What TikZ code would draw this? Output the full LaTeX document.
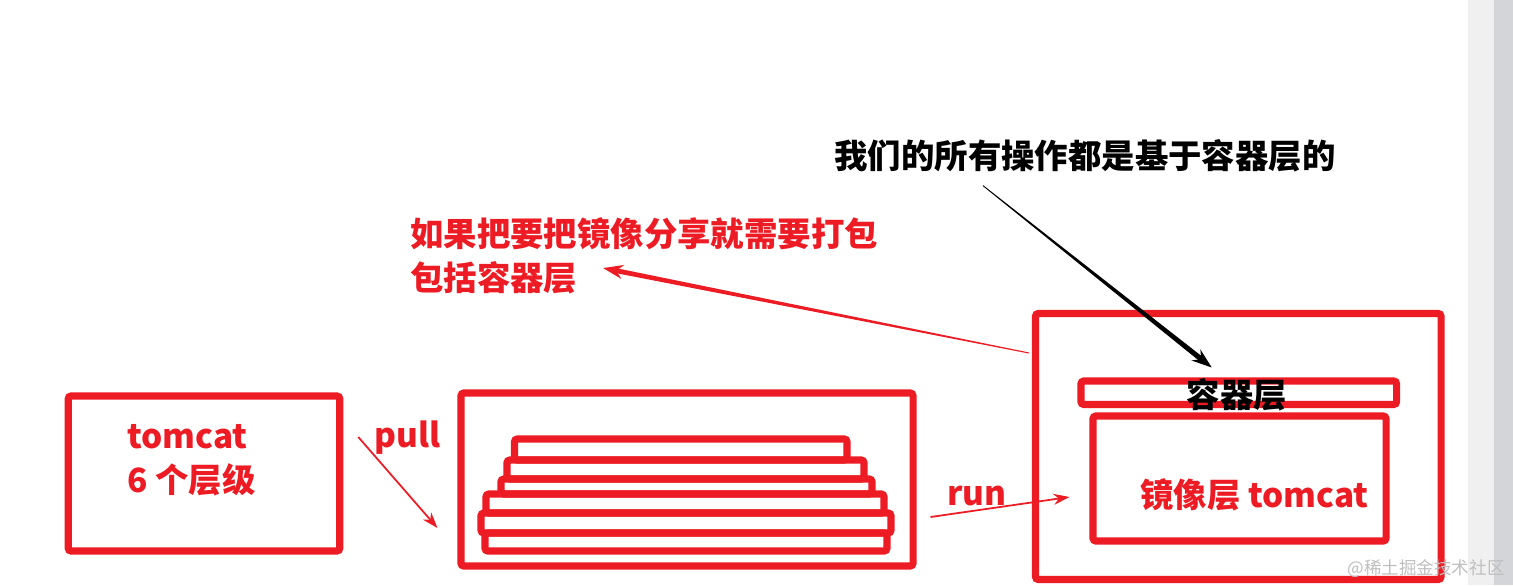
\documentclass[tikz,border=0pt]{standalone}
\usepackage{fontspec}
\setmainfont{Noto Sans CJK SC}
\usepackage{xcolor}
\usepackage{tikz}
\usetikzlibrary{arrows.meta,positioning,calc}
\definecolor{paintred}{RGB}{237,28,36}
\definecolor{barlight}{RGB}{240,240,241}
\definecolor{bardark}{RGB}{212,213,217}

\begin{document}
\begin{tikzpicture}[
  x=0.2mm, y=-0.2mm,
  box/.style={draw=paintred, line width=4pt, rounded corners=1.5pt, inner sep=0pt},
  layer/.style={draw=paintred, line width=4pt, rounded corners=1.5pt},
  redtxt/.style={text=paintred, inner sep=0pt, align=left,
                 font=\fontsize{19pt}{25pt}\selectfont\bfseries},
  blktxt/.style={text=black, inner sep=0pt,
                 font=\fontsize{19pt}{25pt}\selectfont\bfseries},
  thinarr/.style={draw=paintred, line width=1pt, -{Stealth[length=3.2mm, width=2.2mm]}},
  tiparr/.style={line width=1.6pt, -{Stealth[length=4mm, width=2.8mm]}},
  wm/.style={text=black!25, inner sep=0pt, font=\fontsize{10pt}{12pt}\selectfont}]

  % page and scroll bar
  \fill[white] (0,0) rectangle (1513,585);
  \useasboundingbox (0,0) rectangle (1513,585);
  \fill[barlight] (1468,0) rectangle (1494,585);
  \fill[bardark] (1494,0) rectangle (1513,585);

  % boxes
  \node[box, minimum width=54.3mm, minimum height=31mm] (tomcatbox) at (204,473.5) {};
  \node[box, minimum width=90.4mm, minimum height=34.6mm] (imagebox) at (687,479.5) {};
  \node[box, minimum width=81.1mm, minimum height=53.2mm] (containerbox) at (1238.25,446.5) {};
  \node[box, minimum width=63.1mm, minimum height=4.7mm] (containerbar) at (1238.75,392.75) {};
  \node[box, minimum width=58.6mm, minimum height=25mm] (imagelayer) at (1239.5,478.5) {};

  % six image layers
  \draw[layer] (514.5,439) rectangle (847,460);
  \draw[layer] (507,460) rectangle (864,479);
  \draw[layer] (501,479) rectangle (872,494);
  \draw[layer] (486,494) rectangle (884,513);
  \draw[layer] (481,513) rectangle (891,533);
  \draw[layer] (485,533) rectangle (887,551);

  % texts
  \node[redtxt, anchor=west] (tomcattxt) at (127,460) {tomcat\\6 个层级};
  \node[redtxt, anchor=base west] (pulltxt) at (374,447) {pull};
  \node[redtxt, anchor=base west] (runtxt) at (947,505) {run};
  \node[redtxt, anchor=west] (imagetxt) at (1140,495) {镜像层 tomcat};
  \node[redtxt, anchor=west] (sharenote) at (410,255.5) {如果把要把镜像分享就需要打包\\包括容器层};
  \node[blktxt] (opnote) at (1085,156) {我们的所有操作都是基于容器层的};
  \node[wm, anchor=east] (mark) at (1505,569) {@稀土掘金技术社区};

  % connectors
  \draw[thinarr] ($(tomcatbox.east)+(15,-36.5)$) -- ($(imagebox.west)+(-20,48.5)$);
  \draw[thinarr] ($(imagebox.east)+(14,37.5)$) -- ($(imagelayer.west)+(-20,18.5)$);

  % tapered note arrows
  \coordinate (sharefrom) at ($(containerbox.west)+(-3,-93.5)$);
  \coordinate (shareto) at ($(sharenote.south west)+(193,-26)$);
  \coordinate (shareend) at ($(shareto)!6pt!(sharefrom)$);
  \fill[paintred] ($(sharefrom)!0.3pt!90:(shareto)$) -- ($(shareend)!1.4pt!-90:(sharefrom)$)
    -- ($(shareend)!1.4pt!90:(sharefrom)$) -- ($(sharefrom)!0.3pt!-90:(shareto)$) -- cycle;
  \draw[tiparr, draw=paintred, fill=paintred, line width=1.4pt] ($(shareto)!14pt!(sharefrom)$) -- (shareto);

  \coordinate (opfrom) at ($(opnote.south)+(-102,13)$);
  \coordinate (opto) at ($(containerbar.north)+(-27,-10)$);
  \coordinate (opend) at ($(opto)!6pt!(opfrom)$);
  \fill[black] ($(opfrom)!0.25pt!90:(opto)$) -- ($(opend)!1.5pt!-90:(opfrom)$)
    -- ($(opend)!1.5pt!90:(opfrom)$) -- ($(opfrom)!0.25pt!-90:(opto)$) -- cycle;
  \draw[tiparr] ($(opto)!14pt!(opfrom)$) -- (opto);

  \node[blktxt] (containertxt) at (1237,395) {容器层};
\end{tikzpicture}
\end{document}
